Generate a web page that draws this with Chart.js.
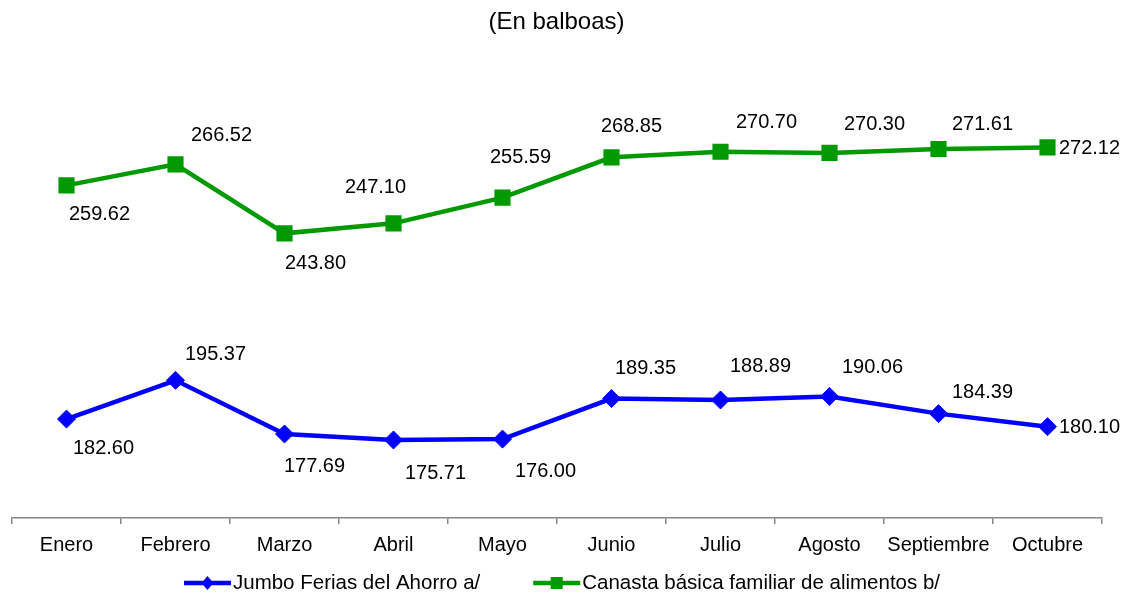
<!DOCTYPE html>
<html>
<head>
<meta charset="utf-8">
<script src="https://cdn.jsdelivr.net/npm/chart.js@4.4.0/dist/chart.umd.min.js"></script>
<style>
  html, body { margin: 0; padding: 0; background: #fff; }
  #wrap { width: 1124px; height: 595px; position: relative; }
</style>
</head>
<body>
<div id="wrap"><canvas id="precioChart"></canvas></div>
<script>
// Months
const meses = ['Enero', 'Febrero', 'Marzo', 'Abril', 'Mayo', 'Junio', 'Julio', 'Agosto', 'Septiembre', 'Octubre'];

// Series values (balboas)
const jumboFerias = [182.60, 195.37, 177.69, 175.71, 176.00, 189.35, 188.89, 190.06, 184.39, 180.10];
const canastaBasica = [259.62, 266.52, 243.80, 247.10, 255.59, 268.85, 270.70, 270.30, 271.61, 272.12];

// Series names
const nombreJumbo = 'Jumbo Ferias del Ahorro a/';
const nombreCanasta = 'Canasta básica familiar de alimentos b/';

// Where each value label sits relative to its point (dx, dy in px)
const offsetsJumbo = [[37, 29], [40, -26], [30, 33], [42, 34], [43, 32], [34, -30], [40, -33], [43, -29], [44, -21], [42, 1]];
const offsetsCanasta = [[33, 29], [46, -29], [31, 30], [-18, -36], [18, -40], [20, -31], [46, -29], [45, -28], [44, -24], [42, 1]];

const FONT = "'Liberation Sans', Arial, sans-serif";

// Value labels next to each point
const valueLabels = {
    id: 'valueLabels',
    afterDatasetsDraw(chart) {
        const ctx = chart.ctx;
        ctx.save();
        ctx.font = '20px ' + FONT;
        ctx.fillStyle = '#000';
        ctx.textAlign = 'center';
        ctx.textBaseline = 'middle';
        chart.data.datasets.forEach((ds, di) => {
            const meta = chart.getDatasetMeta(di);
            meta.data.forEach((pt, i) => {
                const off = ds.labelOffsets[i];
                ctx.fillText(ds.data[i].toFixed(2), pt.x + off[0], pt.y + off[1]);
            });
        });
        ctx.restore();
    }
};

// Legend drawn as line + marker, centred below the axis
const lineLegend = {
    id: 'lineLegend',
    afterDraw(chart) {
        const ctx = chart.ctx;
        const sample = 47, gapText = 2, gapItem = 53;
        const y = 583;
        ctx.save();
        ctx.font = '20.5px ' + FONT;
        const items = chart.data.datasets.map(ds => ({ ds, w: sample + gapText + ctx.measureText(ds.label).width }));
        const total = items.reduce((s, it) => s + it.w, 0) + gapItem * (items.length - 1);
        let x = chart.width / 2 - total / 2;
        items.forEach(it => {
            const ds = it.ds;
            const cx = x + sample / 2;
            ctx.strokeStyle = ds.borderColor;
            ctx.lineWidth = ds.borderWidth;
            ctx.beginPath();
            ctx.moveTo(x, y);
            ctx.lineTo(x + sample, y);
            ctx.stroke();
            ctx.fillStyle = ds.borderColor;
            ctx.beginPath();
            if (ds.pointStyle === 'rect') {
                ctx.rect(cx - 6, y - 6, 12, 12);
            } else {
                ctx.moveTo(cx, y - 7);
                ctx.lineTo(cx + 6, y);
                ctx.lineTo(cx, y + 7);
                ctx.lineTo(cx - 6, y);
                ctx.closePath();
            }
            ctx.fill();
            ctx.fillStyle = '#000';
            ctx.textAlign = 'left';
            ctx.textBaseline = 'middle';
            ctx.fillText(ds.label, x + sample + gapText, y);
            x += it.w + gapItem;
        });
        ctx.restore();
    }
};

new Chart(document.getElementById('precioChart'), {
    type: 'line',
    data: {
        labels: meses,
        datasets: [
            {
                label: nombreJumbo,
                data: jumboFerias,
                labelOffsets: offsetsJumbo,
                borderColor: '#0000ff',
                backgroundColor: '#0000ff',
                borderWidth: 4.5,
                pointStyle: 'rectRot',
                pointRadius: 9,
                pointBorderWidth: 1,
                pointBackgroundColor: '#0000ff',
                pointBorderColor: '#0000ff',
                tension: 0
            },
            {
                label: nombreCanasta,
                data: canastaBasica,
                labelOffsets: offsetsCanasta,
                borderColor: '#009900',
                backgroundColor: '#009900',
                borderWidth: 4.5,
                pointStyle: 'rect',
                pointRadius: 10,
                pointBorderWidth: 2,
                pointBackgroundColor: '#009900',
                pointBorderColor: '#009900',
                tension: 0
            }
        ]
    },
    options: {
        responsive: true,
        maintainAspectRatio: false,
        animation: false,
        layout: {
            padding: { left: 11, right: 22, top: 0, bottom: 29 }
        },
        plugins: {
            legend: { display: false },
            tooltip: { enabled: false },
            title: {
                display: true,
                text: '(En balboas)',
                color: '#000',
                font: { family: FONT, size: 24, weight: 'normal' },
                padding: { top: 8, bottom: 26 }
            }
        },
        scales: {
            x: {
                offset: true,
                grid: {
                    offset: true,
                    drawOnChartArea: false,
                    drawTicks: true,
                    tickLength: 6,
                    color: '#868686',
                    lineWidth: 1.5
                },
                border: { display: true, color: '#868686', width: 1.5 },
                ticks: {
                    color: '#000',
                    padding: 9,
                    maxRotation: 0,
                    autoSkip: false,
                    font: { family: FONT, size: 20 }
                }
            },
            y: {
                display: false,
                min: 150,
                max: 300
            }
        }
    },
    plugins: [valueLabels, lineLegend]
});
</script>
</body>
</html>
